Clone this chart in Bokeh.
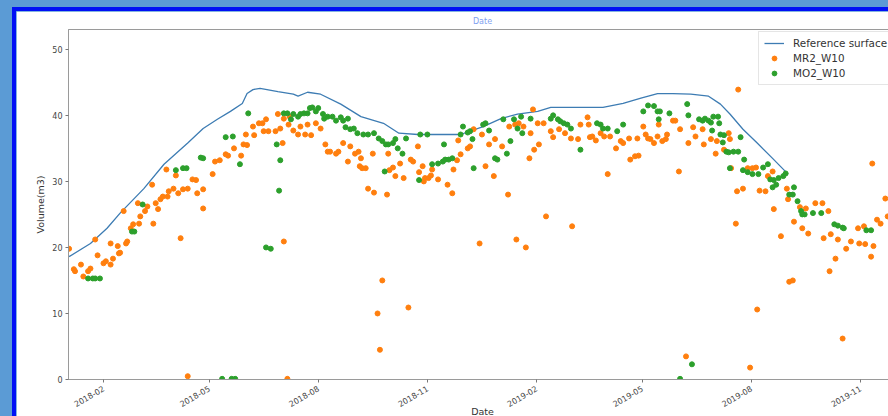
import math
import pandas as pd
from bokeh.plotting import figure
from bokeh.models import Range1d, FixedTicker, DatetimeTickFormatter, Legend, LegendItem, ColumnDataSource
from bokeh.embed import file_html
from bokeh.resources import INLINE

# ---------------- data (days counted from START) ----------------
START = "2018-01-01"

ref_day = [2, 20, 34, 45, 65, 82, 102, 115, 127, 138, 148, 152, 157, 163, 178, 191, 195, 203, 214, 231,
           248, 267, 280, 296, 332, 351, 366, 380, 397, 408, 452, 469, 484, 498, 511, 526, 541, 551, 559, 570,
           582, 596, 608]
ref_vol = [18.6, 20.6, 22.9, 25.2, 28.9, 32.6, 35.8, 38.0, 39.4, 40.6, 41.8, 43.3, 43.9, 44.1, 43.6, 43.2, 42.9, 43.5, 43.2, 41.7,
           39.8, 38.8, 37.3, 37.1, 37.1, 38.3, 39.5, 40.2, 40.6, 41.2, 41.2, 41.8, 42.6, 43.3, 43.3, 43.2, 42.9, 41.7, 40.2, 37.9,
           35.8, 33.3, 31.1]

mr2_day = [2, 6, 7, 12, 14, 18, 20, 24, 26, 31, 33, 37, 37, 39, 43, 44, 45, 48, 50, 51,
           54, 56, 60, 61, 62, 66, 68, 72, 73, 75, 77, 79, 81, 84, 85, 86, 90, 92, 94, 96,
           98, 102, 102, 106, 109, 110, 115, 115, 123, 125, 129, 134, 136, 141, 147, 149, 151, 152, 157, 158,
           162, 165, 166, 168, 170, 176, 178, 180, 182, 183, 183, 186, 187, 188, 191, 195, 197, 201, 203, 206,
           210, 214, 218, 220, 222, 227, 229, 233, 237, 239, 243, 246, 247, 248, 249, 252, 254, 258, 259, 262,
           264, 266, 270, 271, 272, 275, 277, 281, 284, 288, 290, 292, 296, 297, 300, 301, 302, 305, 307, 308,
           313, 321, 325, 326, 329, 330, 332, 338, 340, 343, 348, 350, 353, 356, 360, 361, 367, 372, 373, 378,
           379, 381, 385, 387, 390, 391, 393, 394, 397, 398, 402, 404, 408, 410, 415, 420, 425, 426, 431, 433,
           439, 440, 441, 443, 446, 450, 453, 456, 458, 463, 467, 469, 474, 475, 479, 481, 482, 486, 488, 490,
           492, 495, 498, 499, 502, 505, 506, 511, 513, 516, 517, 522, 524, 528, 530, 536, 537, 543, 547, 548,
           554, 558, 559, 560, 564, 565, 566, 570, 574, 576, 578, 581, 582, 584, 589, 591, 595, 596, 602, 607,
           608, 609, 612, 613, 618, 620, 623, 625, 631, 637, 638, 642, 643, 644, 648, 650, 654, 657, 661, 667,
           668, 672, 673, 678, 679, 680, 683, 686, 690, 692]
mr2_vol = [19.8, 16.7, 16.4, 17.4, 15.6, 16.4, 16.8, 21.2, 18.8, 17.6, 17.9, 17.4, 20.6, 18.3, 20.2, 19.1, 19.2, 25.5, 20.6, 20.9,
           22.9, 23.5, 26.7, 23.6, 24.7, 25.5, 26.2, 29.5, 23.6, 26.7, 25.8, 27.3, 27.7, 31.8, 27.7, 28.5, 28.9, 30.9, 28.2, 21.4,
           28.8, 28.9, 0.5, 30.3, 30.2, 28.2, 28.8, 25.9, 31.1, 33.0, 33.2, 34.1, 33.9, 35.0, 33.9, 35.6, 37.1, 35.5, 38.3, 37.0,
           38.8, 38.8, 37.6, 39.4, 37.6, 37.6, 40.2, 38.0, 35.8, 39.5, 20.9, 0.1, 38.6, 39.8, 37.7, 37.1, 38.3, 37.1, 38.6, 37.0,
           38.8, 38.0, 35.6, 34.5, 34.5, 34.2, 34.5, 35.8, 33.0, 35.3, 34.2, 34.5, 32.3, 33.5, 32.0, 32.0, 28.9, 34.2, 28.3, 10.0,
           4.5, 15.0, 28.0, 34.2, 31.7, 32.1, 30.8, 32.7, 30.5, 10.9, 33.3, 33.0, 35.3, 31.4, 32.3, 30.0, 30.5, 30.5, 30.9, 31.8,
           30.3, 29.5, 28.2, 31.8, 33.2, 36.2, 34.1, 35.0, 35.3, 37.9, 20.6, 37.1, 32.3, 35.6, 30.8, 36.4, 35.3, 28.0, 38.3, 38.6,
           21.2, 38.8, 38.3, 20.0, 33.5, 37.3, 40.9, 34.8, 38.8, 35.6, 38.8, 24.7, 37.6, 36.7, 37.9, 37.3, 36.5, 23.2, 36.4, 38.6,
           39.7, 38.6, 36.7, 36.8, 36.2, 37.3, 36.8, 31.1, 36.8, 35.0, 36.1, 35.8, 36.5, 33.3, 33.8, 36.5, 33.9, 38.3, 37.1, 36.5,
           36.4, 35.8, 36.8, 38.6, 36.1, 36.4, 37.1, 39.2, 39.2, 31.5, 37.9, 3.5, 35.8, 38.2, 36.8, 37.9, 35.6, 36.4, 34.2, 36.1,
           34.8, 37.3, 36.4, 32.0, 23.6, 28.5, 43.9, 28.9, 32.0, 1.8, 32.0, 32.1, 10.6, 28.6, 28.5, 30.8, 31.5, 25.8, 21.7, 28.9,
           27.3, 14.8, 15.0, 23.9, 26.1, 22.9, 25.9, 22.1, 26.7, 26.7, 21.4, 25.5, 16.4, 22.0, 18.3, 21.2, 6.2, 19.8, 20.9, 22.9,
           20.6, 23.2, 20.5, 18.6, 32.7, 20.2, 24.2, 23.6, 27.4, 24.7]

mo2_day = [18, 22, 24, 28, 55, 57, 64, 92, 98, 101, 113, 115, 131, 134, 140, 139, 142, 146, 153, 172,
           168, 177, 179, 180, 183, 186, 189, 191, 195, 197, 200, 203, 205, 207, 210, 212, 216, 217, 220, 224,
           227, 231, 233, 235, 237, 239, 242, 245, 250, 254, 259, 263, 266, 269, 271, 275, 277, 279, 283, 268,
           286, 297, 298, 304, 308, 313, 317, 319, 322, 325, 318, 332, 334, 338, 340, 342, 343, 351, 353, 356,
           361, 363, 368, 371, 374, 377, 380, 383, 384, 391, 408, 410, 414, 416, 419, 422, 425, 433, 447, 450,
           452, 456, 464, 469, 486, 490, 495, 498, 500, 499, 508, 517, 523, 524, 527, 533, 536, 538, 541, 543,
           545, 549, 544, 550, 551, 554, 553, 556, 558, 562, 566, 568, 559, 571, 570, 574, 578, 583, 587, 591,
           593, 596, 595, 598, 600, 604, 606, 613, 609, 612, 616, 619, 620, 622, 629, 636, 647, 650, 654, 655,
           674, 678]
mo2_vol = [15.3, 15.3, 15.3, 15.3, 22.4, 22.4, 26.5, 31.7, 32.0, 32.0, 33.6, 33.5, 0.1, 36.7, 36.8, 0.1, 0.1, 32.6, 40.3, 19.8,
           20.0, 35.6, 28.6, 33.2, 40.3, 40.3, 39.4, 40.2, 39.8, 40.2, 40.3, 40.3, 41.1, 41.2, 40.6, 41.1, 40.2, 39.5, 39.8, 39.8,
           39.2, 39.7, 39.2, 38.2, 39.5, 37.9, 38.0, 37.3, 37.1, 37.1, 37.3, 36.5, 36.1, 35.6, 35.6, 35.8, 36.4, 35.0, 34.2, 31.5,
           36.5, 30.2, 37.1, 37.1, 32.6, 32.7, 33.0, 33.3, 33.3, 33.5, 35.6, 37.1, 38.3, 37.4, 37.6, 36.4, 32.0, 38.6, 38.8, 37.7,
           33.5, 33.3, 39.4, 34.2, 36.1, 39.4, 38.0, 39.8, 37.3, 39.5, 39.5, 40.0, 39.4, 39.1, 38.8, 38.6, 38.0, 34.8, 38.8, 38.6,
           38.0, 38.0, 37.6, 38.6, 40.6, 41.5, 41.4, 40.6, 40.6, 39.4, 40.3, 0.1, 41.7, 40.0, 2.3, 39.4, 39.2, 39.5, 39.2, 38.9,
           39.8, 39.8, 37.7, 38.8, 37.1, 37.0, 35.9, 34.5, 34.4, 34.5, 34.5, 36.7, 32.0, 33.3, 31.7, 31.4, 31.1, 31.1, 32.1, 32.6,
           30.3, 30.2, 29.1, 29.5, 30.5, 30.8, 31.2, 29.1, 28.0, 28.0, 27.0, 25.5, 25.0, 25.0, 25.2, 25.2, 23.5, 23.3, 23.0, 22.9,
           22.6, 22.6]

x_tick_labels = ["2018-02", "2018-05", "2018-08", "2018-11", "2019-02", "2019-05", "2019-08", "2019-11"]
y_ticks = [0, 10, 20, 30, 40, 50]
x_view = ["2018-01-02 12:00", "2019-12-01 10:00"]
y_view = [0, 53]

# ---------------- build ----------------
start = pd.Timestamp(START)


def to_dates(days):
    return start + pd.to_timedelta(days, unit="D")


ref_src = ColumnDataSource(dict(x=to_dates(ref_day), y=ref_vol))
mr2_src = ColumnDataSource(dict(x=to_dates(mr2_day), y=mr2_vol))
mo2_src = ColumnDataSource(dict(x=to_dates(mo2_day), y=mo2_vol))

FONT = "DejaVu Sans"

p = figure(x_axis_type="datetime", frame_width=828, frame_height=350,
           min_border_left=52, min_border_top=17, min_border_right=0, min_border_bottom=4,
           x_range=Range1d(pd.Timestamp(x_view[0]), pd.Timestamp(x_view[1])),
           y_range=Range1d(*y_view),
           output_backend="svg", toolbar_location=None, title="Date")

p.styles = {"border-left": "4px solid #0010f5", "border-top": "4px solid #0010f5"}
p.background_fill_color = "white"
p.border_fill_color = "white"
p.outline_line_color = "#9a9a9a"
p.outline_line_width = 1
p.grid.visible = False

p.title.text_font = FONT
p.title.text_font_size = "8px"
p.title.text_font_style = "normal"
p.title.text_color = "#7f9ff0"
p.title.align = "center"
p.title.standoff = 7

r_line = p.line("x", "y", source=ref_src, line_color="#3d7cb3", line_width=1.3)
r_mr2 = p.scatter("x", "y", source=mr2_src, size=5, fill_color="#ff7f0e", line_color="#ff7f0e")
r_mo2 = p.scatter("x", "y", source=mo2_src, size=5, fill_color="#2ca02c", line_color="#2ca02c")

tick_ms = [pd.Timestamp(t + "-01").value / 1e6 for t in x_tick_labels]
p.xaxis.ticker = FixedTicker(ticks=tick_ms)
fmt = "%Y-%m"
p.xaxis.formatter = DatetimeTickFormatter(milliseconds=fmt, seconds=fmt, minsec=fmt, minutes=fmt, hourmin=fmt,
                                          hours=fmt, days=fmt, months=fmt, years=fmt)
p.xaxis.major_label_orientation = math.pi / 6
p.yaxis.ticker = FixedTicker(ticks=y_ticks)

for ax in (p.xaxis, p.yaxis):
    ax.axis_line_color = "#9a9a9a"
    ax.major_tick_line_color = "#777777"
    ax.major_tick_out = 3
    ax.major_tick_in = 0
    ax.minor_tick_line_color = None
    ax.major_label_text_font = FONT
    ax.major_label_text_font_size = "8px"
    ax.major_label_text_color = "#444444"
    ax.axis_label_text_font = FONT
    ax.axis_label_text_font_size = "9.5px"
    ax.axis_label_text_font_style = "normal"
    ax.axis_label_text_color = "#333333"

p.xaxis.axis_label = "Date"
p.yaxis.axis_label = "Volume(m3)"
p.xaxis.major_label_standoff = 5
p.xaxis.axis_label_standoff = -7
p.yaxis.major_label_standoff = 3
p.yaxis.axis_label_standoff = 3

legend = Legend(items=[LegendItem(label="Reference surface", renderers=[r_line]),
                       LegendItem(label="MR2_W10", renderers=[r_mr2]),
                       LegendItem(label="MO2_W10", renderers=[r_mo2])],
                location=(690, 294))
legend.label_text_font = FONT
legend.label_text_font_size = "10.4px"
legend.label_text_color = "#333333"
legend.padding = 5
legend.spacing = 3
legend.label_height = 12
legend.glyph_height = 12
legend.glyph_width = 20
legend.label_standoff = 9
legend.margin = 0
legend.border_line_color = "#cccccc"
legend.background_fill_alpha = 0.85
p.add_layout(legend)

html = file_html(p, INLINE, title="Volume")
html = html.replace(
    "</head>",
    "<style>html,body{background:#5b9bd5 !important;overflow:hidden !important;margin:0 !important;}"
    "body{padding:7px 0 0 12px !important;}</style></head>", 1)
open("out.html", "w").write(html)
